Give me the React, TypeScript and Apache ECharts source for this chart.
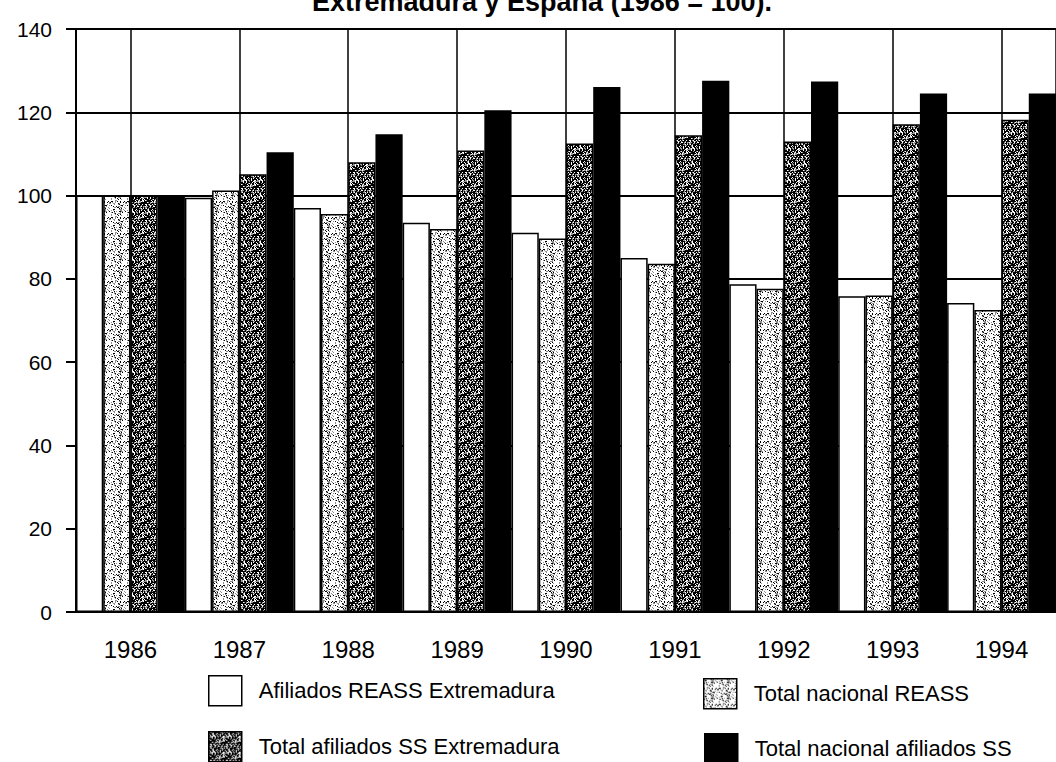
import React, { useEffect, useRef } from 'react';
import * as echarts from 'echarts';

const years = ['1986', '1987', '1988', '1989', '1990', '1991', '1992', '1993', '1994'];
const reassExtremadura = [100, 99.5, 97.0, 93.5, 91.1, 85.0, 78.7, 75.8, 74.2];
const reassNacional = [100, 101.2, 95.6, 92.0, 89.7, 83.6, 77.6, 76.0, 72.5];
const ssExtremadura = [100, 105.1, 108.0, 110.8, 112.5, 114.5, 113.0, 117.1, 118.2];
const ssNacional = [100, 110.4, 114.7, 120.5, 126.1, 127.6, 127.4, 124.5, 124.5];
const seriesNames = [
  'Afiliados REASS Extremadura',
  'Total nacional REASS',
  'Total afiliados SS Extremadura',
  'Total nacional afiliados SS',
];
const titleText = 'Extremadura y España (1986 = 100).';
const halfSlots = years.flatMap((y) => [y + 'a', y + 'b']);

function hash(x: number, y: number, s: number): number {
  let h = (Math.imul(x, 374761393) + Math.imul(y, 668265263) + Math.imul(s, 982451653)) | 0;
  h = Math.imul(h ^ (h >>> 13), 1274126177);
  h = h ^ (h >>> 16);
  return (h >>> 0) / 4294967296;
}

function makeStipple(light: boolean): HTMLCanvasElement {
  const size = 16;
  const c = document.createElement('canvas');
  c.width = size;
  c.height = size;
  const ctx = c.getContext('2d')!;
  const img = ctx.createImageData(size, size);
  for (let y = 0; y < size; y++) {
    for (let x = 0; x < size; x++) {
      const r = hash(x, y, light ? 1 : 2);
      let v: number;
      if (light) v = r < 0.13 ? 0 : r < 0.33 ? 140 : 255;
      else v = r < 0.2 ? 255 : r < 0.42 ? 150 : 0;
      const i = (y * size + x) * 4;
      img.data[i] = v;
      img.data[i + 1] = v;
      img.data[i + 2] = v;
      img.data[i + 3] = 255;
    }
  }
  ctx.putImageData(img, 0, 0);
  return c;
}

const FONT = '"Liberation Sans", Arial, sans-serif';

export default function App() {
  const ref = useRef<HTMLDivElement>(null);
  useEffect(() => {
    if (!ref.current) return;
    const chart = echarts.init(ref.current, undefined, { renderer: 'svg' });
    const lightPat: any = { image: makeStipple(true), repeat: 'repeat', imageWidth: 16, imageHeight: 16 };
    const darkPat: any = { image: makeStipple(false), repeat: 'repeat', imageWidth: 16, imageHeight: 16 };
    const mk = (name: string, data: number[], color: any) => ({
      type: 'bar',
      name,
      data,
      barGap: '0%',
      barCategoryGap: '0%',
      itemStyle: { color, borderColor: '#000', borderWidth: 1.5 },
      emphasis: { disabled: true },
    });
    const legendCommon = {
      orient: 'horizontal',
      icon: 'rect',
      itemWidth: 33,
      itemHeight: 30,
      padding: 0,
      selectedMode: false,
      itemStyle: { borderColor: '#000', borderWidth: 1.5 },
      textStyle: { fontSize: 22, color: '#000', fontFamily: FONT, padding: [0, 0, 0, 12] },
    };
    chart.setOption({
      animation: false,
      backgroundColor: '#fff',
      textStyle: { fontFamily: FONT },
      grid: { left: 76, top: 29, width: 992, height: 583 },
      xAxis: [
        {
          type: 'category',
          data: years,
          axisLine: { lineStyle: { color: '#000', width: 2 } },
          axisTick: { alignWithLabel: true, length: 18, lineStyle: { color: '#000', width: 2 } },
          axisLabel: { fontSize: 24, color: '#000', margin: 25, fontFamily: FONT },
          splitLine: { show: false },
        },
        {
          type: 'category',
          data: halfSlots,
          position: 'bottom',
          axisLine: { show: false },
          axisTick: { show: false },
          axisLabel: { show: false },
          splitLine: {
            show: true,
            interval: (i: number) => i % 2 === 1,
            lineStyle: { color: '#000', width: 1.5 },
          },
        },
      ],
      yAxis: {
        type: 'value',
        min: 0,
        max: 140,
        interval: 20,
        axisLine: { show: true, lineStyle: { color: '#000', width: 2 } },
        axisTick: { show: true, length: 10, lineStyle: { color: '#000', width: 2 } },
        axisLabel: { fontSize: 21, color: '#000', margin: 24, fontFamily: FONT },
        splitLine: { show: true, lineStyle: { color: '#000', width: 2 } },
      },
      legend: [
        { ...legendCommon, left: 208, top: 675, data: [seriesNames[0]] },
        { ...legendCommon, left: 208, top: 731, data: [seriesNames[2]] },
        { ...legendCommon, left: 703, top: 678, data: [seriesNames[1]] },
        { ...legendCommon, left: 704, top: 733, data: [seriesNames[3]] },
      ],
      graphic: [
        {
          type: 'text',
          x: 542,
          y: 2,
          style: {
            text: titleText,
            fontSize: 27,
            fontWeight: 'bold',
            fontFamily: FONT,
            fill: '#000',
            textAlign: 'center',
            textVerticalAlign: 'middle',
          },
        },
      ],
      series: [
        mk(seriesNames[0], reassExtremadura, '#fff'),
        mk(seriesNames[1], reassNacional, lightPat),
        mk(seriesNames[2], ssExtremadura, darkPat),
        mk(seriesNames[3], ssNacional, '#000'),
      ],
    });
    return () => chart.dispose();
  }, []);
  return (
    <div
      ref={ref}
      style={{ position: 'fixed', left: 0, top: 0, width: 1056, height: 762, background: '#fff' }}
    />
  );
}
